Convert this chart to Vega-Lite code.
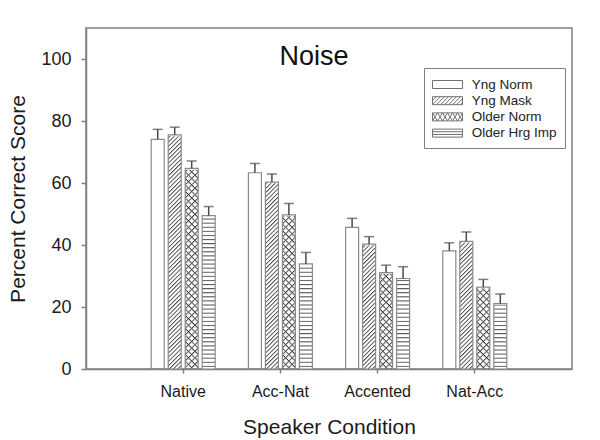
{
"$schema": "https://vega.github.io/schema/vega-lite/v6.json",
"width": 486, "height": 341,
"autosize": {"type": "none"},
"padding": {"left": 86, "top": 28, "right": 28, "bottom": 71},
"background": "white",
"title": {"text": "Noise", "fontSize": 27, "font": "Liberation Sans", "fontWeight": "normal", "color": "#111", "anchor": "middle", "frame": "group", "offset": 0, "baseline": "alphabetic", "dy": 64, "dx": -15},
"config": {
  "font": "Liberation Sans",
  "view": {"stroke": "#808080", "strokeWidth": 1.5},
  "axis": {"grid": false, "domainColor": "#808080", "domainWidth": 1.5, "tickColor": "#808080", "tickWidth": 1.5, "labelColor": "#1a1a1a", "titleColor": "#1a1a1a", "labelFont": "Liberation Sans", "titleFont": "Liberation Sans", "titleFontWeight": "normal"}
},
"data": {"values": [
{"cond":"Native","group":"Yng Norm","mean":74.1,"hi":77.3},
{"cond":"Native","group":"Yng Mask","mean":75.5,"hi":78.0},
{"cond":"Native","group":"Older Norm","mean":64.7,"hi":67.1},
{"cond":"Native","group":"Older Hrg Imp","mean":49.5,"hi":52.4},
{"cond":"Acc-Nat","group":"Yng Norm","mean":63.3,"hi":66.3},
{"cond":"Acc-Nat","group":"Yng Mask","mean":60.3,"hi":62.9},
{"cond":"Acc-Nat","group":"Older Norm","mean":49.7,"hi":53.4},
{"cond":"Acc-Nat","group":"Older Hrg Imp","mean":33.9,"hi":37.6},
{"cond":"Accented","group":"Yng Norm","mean":45.7,"hi":48.6},
{"cond":"Accented","group":"Yng Mask","mean":40.3,"hi":42.7},
{"cond":"Accented","group":"Older Norm","mean":31.1,"hi":33.5},
{"cond":"Accented","group":"Older Hrg Imp","mean":29.2,"hi":33.0},
{"cond":"Nat-Acc","group":"Yng Norm","mean":38.1,"hi":40.7},
{"cond":"Nat-Acc","group":"Yng Mask","mean":41.2,"hi":44.2},
{"cond":"Nat-Acc","group":"Older Norm","mean":26.4,"hi":28.9},
{"cond":"Nat-Acc","group":"Older Hrg Imp","mean":21.1,"hi":24.2}
]},
"encoding": {
  "x": {"field": "cond", "type": "nominal", "sort": ["Native","Acc-Nat","Accented","Nat-Acc"],
        "scale": {"domain": ["Native","Acc-Nat","Accented","Nat-Acc"], "paddingInner": 0.3, "paddingOuter": 0.65},
        "title": "Speaker Condition",
        "axis": {"labelAngle": 0, "tickSize": 4, "labelFontSize": 16, "labelBaseline": "alphabetic", "labelPadding": 23.5, "titleFontSize": 21, "titleBaseline": "alphabetic", "titleY": 64}},
  "xOffset": {"field": "group", "type": "nominal", "sort": ["Yng Norm","Yng Mask","Older Norm","Older Hrg Imp"],
        "scale": {"domain": ["Yng Norm","Yng Mask","Older Norm","Older Hrg Imp"], "paddingInner": 0.235, "paddingOuter": 0.12}}
},
"layer": [
{
  "transform": [{"filter": "datum.group === 'Yng Mask'"}],
  "mark": {"type": "bar", "fill": {"gradient": "linear", "x1": 0, "y1": 0, "x2": 0.0556, "y2": 1.06, "stops": [
{"offset":0,"color":"#444"},{"offset":0.0064,"color":"#fff"},{"offset":0.0128,"color":"#fff"},
{"offset":0.016,"color":"#444"},{"offset":0.0224,"color":"#fff"},{"offset":0.0288,"color":"#fff"},
{"offset":0.032,"color":"#444"},{"offset":0.0384,"color":"#fff"},{"offset":0.0448,"color":"#fff"},
{"offset":0.048,"color":"#444"},{"offset":0.0544,"color":"#fff"},{"offset":0.0608,"color":"#fff"},
{"offset":0.064,"color":"#444"},{"offset":0.0704,"color":"#fff"},{"offset":0.0768,"color":"#fff"},
{"offset":0.08,"color":"#444"},{"offset":0.0864,"color":"#fff"},{"offset":0.0928,"color":"#fff"},
{"offset":0.096,"color":"#444"},{"offset":0.1024,"color":"#fff"},{"offset":0.1088,"color":"#fff"},
{"offset":0.112,"color":"#444"},{"offset":0.1184,"color":"#fff"},{"offset":0.1248,"color":"#fff"},
{"offset":0.128,"color":"#444"},{"offset":0.1344,"color":"#fff"},{"offset":0.1408,"color":"#fff"},
{"offset":0.144,"color":"#444"},{"offset":0.1504,"color":"#fff"},{"offset":0.1568,"color":"#fff"},
{"offset":0.16,"color":"#444"},{"offset":0.1664,"color":"#fff"},{"offset":0.1728,"color":"#fff"},
{"offset":0.176,"color":"#444"},{"offset":0.1824,"color":"#fff"},{"offset":0.1888,"color":"#fff"},
{"offset":0.192,"color":"#444"},{"offset":0.1984,"color":"#fff"},{"offset":0.2048,"color":"#fff"},
{"offset":0.208,"color":"#444"},{"offset":0.2144,"color":"#fff"},{"offset":0.2208,"color":"#fff"},
{"offset":0.224,"color":"#444"},{"offset":0.2304,"color":"#fff"},{"offset":0.2368,"color":"#fff"},
{"offset":0.24,"color":"#444"},{"offset":0.2464,"color":"#fff"},{"offset":0.2528,"color":"#fff"},
{"offset":0.256,"color":"#444"},{"offset":0.2624,"color":"#fff"},{"offset":0.2688,"color":"#fff"},
{"offset":0.272,"color":"#444"},{"offset":0.2784,"color":"#fff"},{"offset":0.2848,"color":"#fff"},
{"offset":0.288,"color":"#444"},{"offset":0.2944,"color":"#fff"},{"offset":0.3008,"color":"#fff"},
{"offset":0.304,"color":"#444"},{"offset":0.3104,"color":"#fff"},{"offset":0.3168,"color":"#fff"},
{"offset":0.32,"color":"#444"},{"offset":0.3264,"color":"#fff"},{"offset":0.3328,"color":"#fff"},
{"offset":0.336,"color":"#444"},{"offset":0.3424,"color":"#fff"},{"offset":0.3488,"color":"#fff"},
{"offset":0.352,"color":"#444"},{"offset":0.3584,"color":"#fff"},{"offset":0.3648,"color":"#fff"},
{"offset":0.368,"color":"#444"},{"offset":0.3744,"color":"#fff"},{"offset":0.3808,"color":"#fff"},
{"offset":0.384,"color":"#444"},{"offset":0.3904,"color":"#fff"},{"offset":0.3968,"color":"#fff"},
{"offset":0.4,"color":"#444"},{"offset":0.4064,"color":"#fff"},{"offset":0.4128,"color":"#fff"},
{"offset":0.416,"color":"#444"},{"offset":0.4224,"color":"#fff"},{"offset":0.4288,"color":"#fff"},
{"offset":0.432,"color":"#444"},{"offset":0.4384,"color":"#fff"},{"offset":0.4448,"color":"#fff"},
{"offset":0.448,"color":"#444"},{"offset":0.4544,"color":"#fff"},{"offset":0.4608,"color":"#fff"},
{"offset":0.464,"color":"#444"},{"offset":0.4704,"color":"#fff"},{"offset":0.4768,"color":"#fff"},
{"offset":0.48,"color":"#444"},{"offset":0.4864,"color":"#fff"},{"offset":0.4928,"color":"#fff"},
{"offset":0.496,"color":"#444"},{"offset":0.5024,"color":"#fff"},{"offset":0.5088,"color":"#fff"},
{"offset":0.512,"color":"#444"},{"offset":0.5184,"color":"#fff"},{"offset":0.5248,"color":"#fff"},
{"offset":0.528,"color":"#444"},{"offset":0.5344,"color":"#fff"},{"offset":0.5408,"color":"#fff"},
{"offset":0.544,"color":"#444"},{"offset":0.5504,"color":"#fff"},{"offset":0.5568,"color":"#fff"},
{"offset":0.56,"color":"#444"},{"offset":0.5664,"color":"#fff"},{"offset":0.5728,"color":"#fff"},
{"offset":0.576,"color":"#444"},{"offset":0.5824,"color":"#fff"},{"offset":0.5888,"color":"#fff"},
{"offset":0.592,"color":"#444"},{"offset":0.5984,"color":"#fff"},{"offset":0.6048,"color":"#fff"},
{"offset":0.608,"color":"#444"},{"offset":0.6144,"color":"#fff"},{"offset":0.6208,"color":"#fff"},
{"offset":0.624,"color":"#444"},{"offset":0.6304,"color":"#fff"},{"offset":0.6368,"color":"#fff"},
{"offset":0.64,"color":"#444"},{"offset":0.6464,"color":"#fff"},{"offset":0.6528,"color":"#fff"},
{"offset":0.656,"color":"#444"},{"offset":0.6624,"color":"#fff"},{"offset":0.6688,"color":"#fff"},
{"offset":0.672,"color":"#444"},{"offset":0.6784,"color":"#fff"},{"offset":0.6848,"color":"#fff"},
{"offset":0.688,"color":"#444"},{"offset":0.6944,"color":"#fff"},{"offset":0.7008,"color":"#fff"},
{"offset":0.704,"color":"#444"},{"offset":0.7104,"color":"#fff"},{"offset":0.7168,"color":"#fff"},
{"offset":0.72,"color":"#444"},{"offset":0.7264,"color":"#fff"},{"offset":0.7328,"color":"#fff"},
{"offset":0.736,"color":"#444"},{"offset":0.7424,"color":"#fff"},{"offset":0.7488,"color":"#fff"},
{"offset":0.752,"color":"#444"},{"offset":0.7584,"color":"#fff"},{"offset":0.7648,"color":"#fff"},
{"offset":0.768,"color":"#444"},{"offset":0.7744,"color":"#fff"},{"offset":0.7808,"color":"#fff"},
{"offset":0.784,"color":"#444"},{"offset":0.7904,"color":"#fff"},{"offset":0.7968,"color":"#fff"},
{"offset":0.8,"color":"#444"},{"offset":0.8064,"color":"#fff"},{"offset":0.8128,"color":"#fff"},
{"offset":0.816,"color":"#444"},{"offset":0.8224,"color":"#fff"},{"offset":0.8288,"color":"#fff"},
{"offset":0.832,"color":"#444"},{"offset":0.8384,"color":"#fff"},{"offset":0.8448,"color":"#fff"},
{"offset":0.848,"color":"#444"},{"offset":0.8544,"color":"#fff"},{"offset":0.8608,"color":"#fff"},
{"offset":0.864,"color":"#444"},{"offset":0.8704,"color":"#fff"},{"offset":0.8768,"color":"#fff"},
{"offset":0.88,"color":"#444"},{"offset":0.8864,"color":"#fff"},{"offset":0.8928,"color":"#fff"},
{"offset":0.896,"color":"#444"},{"offset":0.9024,"color":"#fff"},{"offset":0.9088,"color":"#fff"},
{"offset":0.912,"color":"#444"},{"offset":0.9184,"color":"#fff"},{"offset":0.9248,"color":"#fff"},
{"offset":0.928,"color":"#444"},{"offset":0.9344,"color":"#fff"},{"offset":0.9408,"color":"#fff"},
{"offset":0.944,"color":"#444"},{"offset":0.9504,"color":"#fff"},{"offset":0.9568,"color":"#fff"},
{"offset":0.96,"color":"#444"},{"offset":0.9664,"color":"#fff"},{"offset":0.9728,"color":"#fff"},
{"offset":0.976,"color":"#444"},{"offset":0.9824,"color":"#fff"},{"offset":0.9888,"color":"#fff"}
]}},
  "encoding": {"y": {"datum": 80, "type": "quantitative", "title": "Percent Correct Score"}, "y2": {"datum": 0}}
},
{
  "transform": [{"filter": "datum.group === 'Older Norm'"}],
  "mark": {"type": "bar", "fill": {"gradient": "linear", "x1": 0, "y1": 0, "x2": 0.0641, "y2": 1.07, "stops": [
{"offset":0,"color":"#333"},{"offset":0.0112,"color":"rgba(255,255,255,0)"},{"offset":0.0224,"color":"rgba(255,255,255,0)"},
{"offset":0.028,"color":"#333"},{"offset":0.0392,"color":"rgba(255,255,255,0)"},{"offset":0.0504,"color":"rgba(255,255,255,0)"},
{"offset":0.056,"color":"#333"},{"offset":0.0672,"color":"rgba(255,255,255,0)"},{"offset":0.0784,"color":"rgba(255,255,255,0)"},
{"offset":0.084,"color":"#333"},{"offset":0.0952,"color":"rgba(255,255,255,0)"},{"offset":0.1064,"color":"rgba(255,255,255,0)"},
{"offset":0.112,"color":"#333"},{"offset":0.1232,"color":"rgba(255,255,255,0)"},{"offset":0.1344,"color":"rgba(255,255,255,0)"},
{"offset":0.14,"color":"#333"},{"offset":0.1512,"color":"rgba(255,255,255,0)"},{"offset":0.1624,"color":"rgba(255,255,255,0)"},
{"offset":0.168,"color":"#333"},{"offset":0.1792,"color":"rgba(255,255,255,0)"},{"offset":0.1904,"color":"rgba(255,255,255,0)"},
{"offset":0.196,"color":"#333"},{"offset":0.2072,"color":"rgba(255,255,255,0)"},{"offset":0.2184,"color":"rgba(255,255,255,0)"},
{"offset":0.224,"color":"#333"},{"offset":0.2352,"color":"rgba(255,255,255,0)"},{"offset":0.2464,"color":"rgba(255,255,255,0)"},
{"offset":0.252,"color":"#333"},{"offset":0.2632,"color":"rgba(255,255,255,0)"},{"offset":0.2744,"color":"rgba(255,255,255,0)"},
{"offset":0.28,"color":"#333"},{"offset":0.2912,"color":"rgba(255,255,255,0)"},{"offset":0.3024,"color":"rgba(255,255,255,0)"},
{"offset":0.308,"color":"#333"},{"offset":0.3192,"color":"rgba(255,255,255,0)"},{"offset":0.3304,"color":"rgba(255,255,255,0)"},
{"offset":0.336,"color":"#333"},{"offset":0.3472,"color":"rgba(255,255,255,0)"},{"offset":0.3584,"color":"rgba(255,255,255,0)"},
{"offset":0.364,"color":"#333"},{"offset":0.3752,"color":"rgba(255,255,255,0)"},{"offset":0.3864,"color":"rgba(255,255,255,0)"},
{"offset":0.392,"color":"#333"},{"offset":0.4032,"color":"rgba(255,255,255,0)"},{"offset":0.4144,"color":"rgba(255,255,255,0)"},
{"offset":0.42,"color":"#333"},{"offset":0.4312,"color":"rgba(255,255,255,0)"},{"offset":0.4424,"color":"rgba(255,255,255,0)"},
{"offset":0.448,"color":"#333"},{"offset":0.4592,"color":"rgba(255,255,255,0)"},{"offset":0.4704,"color":"rgba(255,255,255,0)"},
{"offset":0.476,"color":"#333"},{"offset":0.4872,"color":"rgba(255,255,255,0)"},{"offset":0.4984,"color":"rgba(255,255,255,0)"},
{"offset":0.504,"color":"#333"},{"offset":0.5152,"color":"rgba(255,255,255,0)"},{"offset":0.5264,"color":"rgba(255,255,255,0)"},
{"offset":0.532,"color":"#333"},{"offset":0.5432,"color":"rgba(255,255,255,0)"},{"offset":0.5544,"color":"rgba(255,255,255,0)"},
{"offset":0.56,"color":"#333"},{"offset":0.5712,"color":"rgba(255,255,255,0)"},{"offset":0.5824,"color":"rgba(255,255,255,0)"},
{"offset":0.588,"color":"#333"},{"offset":0.5992,"color":"rgba(255,255,255,0)"},{"offset":0.6104,"color":"rgba(255,255,255,0)"},
{"offset":0.616,"color":"#333"},{"offset":0.6272,"color":"rgba(255,255,255,0)"},{"offset":0.6384,"color":"rgba(255,255,255,0)"},
{"offset":0.644,"color":"#333"},{"offset":0.6552,"color":"rgba(255,255,255,0)"},{"offset":0.6664,"color":"rgba(255,255,255,0)"},
{"offset":0.672,"color":"#333"},{"offset":0.6832,"color":"rgba(255,255,255,0)"},{"offset":0.6944,"color":"rgba(255,255,255,0)"},
{"offset":0.7,"color":"#333"},{"offset":0.7112,"color":"rgba(255,255,255,0)"},{"offset":0.7224,"color":"rgba(255,255,255,0)"},
{"offset":0.728,"color":"#333"},{"offset":0.7392,"color":"rgba(255,255,255,0)"},{"offset":0.7504,"color":"rgba(255,255,255,0)"},
{"offset":0.756,"color":"#333"},{"offset":0.7672,"color":"rgba(255,255,255,0)"},{"offset":0.7784,"color":"rgba(255,255,255,0)"},
{"offset":0.784,"color":"#333"},{"offset":0.7952,"color":"rgba(255,255,255,0)"},{"offset":0.8064,"color":"rgba(255,255,255,0)"},
{"offset":0.812,"color":"#333"},{"offset":0.8232,"color":"rgba(255,255,255,0)"},{"offset":0.8344,"color":"rgba(255,255,255,0)"},
{"offset":0.84,"color":"#333"},{"offset":0.8512,"color":"rgba(255,255,255,0)"},{"offset":0.8624,"color":"rgba(255,255,255,0)"},
{"offset":0.868,"color":"#333"},{"offset":0.8792,"color":"rgba(255,255,255,0)"},{"offset":0.8904,"color":"rgba(255,255,255,0)"},
{"offset":0.896,"color":"#333"},{"offset":0.9072,"color":"rgba(255,255,255,0)"},{"offset":0.9184,"color":"rgba(255,255,255,0)"},
{"offset":0.924,"color":"#333"},{"offset":0.9352,"color":"rgba(255,255,255,0)"},{"offset":0.9464,"color":"rgba(255,255,255,0)"},
{"offset":0.952,"color":"#333"},{"offset":0.9632,"color":"rgba(255,255,255,0)"},{"offset":0.9744,"color":"rgba(255,255,255,0)"},
{"offset":0.98,"color":"#333"},{"offset":0.9912,"color":"rgba(255,255,255,0)"},{"offset":1,"color":"rgba(255,255,255,0)"}
]}},
  "encoding": {"y": {"datum": 70, "type": "quantitative", "title": "Percent Correct Score"}, "y2": {"datum": 0}}
},
{
  "transform": [{"filter": "datum.group === 'Older Norm'"}],
  "mark": {"type": "bar", "fill": {"gradient": "linear", "x1": 1, "y1": 0, "x2": 0.9359, "y2": 1.07, "stops": [
{"offset":0,"color":"#333"},{"offset":0.0112,"color":"rgba(255,255,255,0)"},{"offset":0.0224,"color":"rgba(255,255,255,0)"},
{"offset":0.028,"color":"#333"},{"offset":0.0392,"color":"rgba(255,255,255,0)"},{"offset":0.0504,"color":"rgba(255,255,255,0)"},
{"offset":0.056,"color":"#333"},{"offset":0.0672,"color":"rgba(255,255,255,0)"},{"offset":0.0784,"color":"rgba(255,255,255,0)"},
{"offset":0.084,"color":"#333"},{"offset":0.0952,"color":"rgba(255,255,255,0)"},{"offset":0.1064,"color":"rgba(255,255,255,0)"},
{"offset":0.112,"color":"#333"},{"offset":0.1232,"color":"rgba(255,255,255,0)"},{"offset":0.1344,"color":"rgba(255,255,255,0)"},
{"offset":0.14,"color":"#333"},{"offset":0.1512,"color":"rgba(255,255,255,0)"},{"offset":0.1624,"color":"rgba(255,255,255,0)"},
{"offset":0.168,"color":"#333"},{"offset":0.1792,"color":"rgba(255,255,255,0)"},{"offset":0.1904,"color":"rgba(255,255,255,0)"},
{"offset":0.196,"color":"#333"},{"offset":0.2072,"color":"rgba(255,255,255,0)"},{"offset":0.2184,"color":"rgba(255,255,255,0)"},
{"offset":0.224,"color":"#333"},{"offset":0.2352,"color":"rgba(255,255,255,0)"},{"offset":0.2464,"color":"rgba(255,255,255,0)"},
{"offset":0.252,"color":"#333"},{"offset":0.2632,"color":"rgba(255,255,255,0)"},{"offset":0.2744,"color":"rgba(255,255,255,0)"},
{"offset":0.28,"color":"#333"},{"offset":0.2912,"color":"rgba(255,255,255,0)"},{"offset":0.3024,"color":"rgba(255,255,255,0)"},
{"offset":0.308,"color":"#333"},{"offset":0.3192,"color":"rgba(255,255,255,0)"},{"offset":0.3304,"color":"rgba(255,255,255,0)"},
{"offset":0.336,"color":"#333"},{"offset":0.3472,"color":"rgba(255,255,255,0)"},{"offset":0.3584,"color":"rgba(255,255,255,0)"},
{"offset":0.364,"color":"#333"},{"offset":0.3752,"color":"rgba(255,255,255,0)"},{"offset":0.3864,"color":"rgba(255,255,255,0)"},
{"offset":0.392,"color":"#333"},{"offset":0.4032,"color":"rgba(255,255,255,0)"},{"offset":0.4144,"color":"rgba(255,255,255,0)"},
{"offset":0.42,"color":"#333"},{"offset":0.4312,"color":"rgba(255,255,255,0)"},{"offset":0.4424,"color":"rgba(255,255,255,0)"},
{"offset":0.448,"color":"#333"},{"offset":0.4592,"color":"rgba(255,255,255,0)"},{"offset":0.4704,"color":"rgba(255,255,255,0)"},
{"offset":0.476,"color":"#333"},{"offset":0.4872,"color":"rgba(255,255,255,0)"},{"offset":0.4984,"color":"rgba(255,255,255,0)"},
{"offset":0.504,"color":"#333"},{"offset":0.5152,"color":"rgba(255,255,255,0)"},{"offset":0.5264,"color":"rgba(255,255,255,0)"},
{"offset":0.532,"color":"#333"},{"offset":0.5432,"color":"rgba(255,255,255,0)"},{"offset":0.5544,"color":"rgba(255,255,255,0)"},
{"offset":0.56,"color":"#333"},{"offset":0.5712,"color":"rgba(255,255,255,0)"},{"offset":0.5824,"color":"rgba(255,255,255,0)"},
{"offset":0.588,"color":"#333"},{"offset":0.5992,"color":"rgba(255,255,255,0)"},{"offset":0.6104,"color":"rgba(255,255,255,0)"},
{"offset":0.616,"color":"#333"},{"offset":0.6272,"color":"rgba(255,255,255,0)"},{"offset":0.6384,"color":"rgba(255,255,255,0)"},
{"offset":0.644,"color":"#333"},{"offset":0.6552,"color":"rgba(255,255,255,0)"},{"offset":0.6664,"color":"rgba(255,255,255,0)"},
{"offset":0.672,"color":"#333"},{"offset":0.6832,"color":"rgba(255,255,255,0)"},{"offset":0.6944,"color":"rgba(255,255,255,0)"},
{"offset":0.7,"color":"#333"},{"offset":0.7112,"color":"rgba(255,255,255,0)"},{"offset":0.7224,"color":"rgba(255,255,255,0)"},
{"offset":0.728,"color":"#333"},{"offset":0.7392,"color":"rgba(255,255,255,0)"},{"offset":0.7504,"color":"rgba(255,255,255,0)"},
{"offset":0.756,"color":"#333"},{"offset":0.7672,"color":"rgba(255,255,255,0)"},{"offset":0.7784,"color":"rgba(255,255,255,0)"},
{"offset":0.784,"color":"#333"},{"offset":0.7952,"color":"rgba(255,255,255,0)"},{"offset":0.8064,"color":"rgba(255,255,255,0)"},
{"offset":0.812,"color":"#333"},{"offset":0.8232,"color":"rgba(255,255,255,0)"},{"offset":0.8344,"color":"rgba(255,255,255,0)"},
{"offset":0.84,"color":"#333"},{"offset":0.8512,"color":"rgba(255,255,255,0)"},{"offset":0.8624,"color":"rgba(255,255,255,0)"},
{"offset":0.868,"color":"#333"},{"offset":0.8792,"color":"rgba(255,255,255,0)"},{"offset":0.8904,"color":"rgba(255,255,255,0)"},
{"offset":0.896,"color":"#333"},{"offset":0.9072,"color":"rgba(255,255,255,0)"},{"offset":0.9184,"color":"rgba(255,255,255,0)"},
{"offset":0.924,"color":"#333"},{"offset":0.9352,"color":"rgba(255,255,255,0)"},{"offset":0.9464,"color":"rgba(255,255,255,0)"},
{"offset":0.952,"color":"#333"},{"offset":0.9632,"color":"rgba(255,255,255,0)"},{"offset":0.9744,"color":"rgba(255,255,255,0)"},
{"offset":0.98,"color":"#333"},{"offset":0.9912,"color":"rgba(255,255,255,0)"},{"offset":1,"color":"rgba(255,255,255,0)"}
]}},
  "encoding": {"y": {"datum": 70, "type": "quantitative", "title": "Percent Correct Score"}, "y2": {"datum": 0}}
},
{
  "transform": [{"filter": "datum.group === 'Older Hrg Imp'"}],
  "mark": {"type": "bar", "fill": {"gradient": "linear", "x1": 0, "y1": 0, "x2": 0, "y2": 1, "stops": [
{"offset":0,"color":"#555"},{"offset":0.0072,"color":"#fff"},{"offset":0.0192,"color":"#fff"},
{"offset":0.024,"color":"#555"},{"offset":0.0312,"color":"#fff"},{"offset":0.0432,"color":"#fff"},
{"offset":0.048,"color":"#555"},{"offset":0.0552,"color":"#fff"},{"offset":0.0672,"color":"#fff"},
{"offset":0.072,"color":"#555"},{"offset":0.0792,"color":"#fff"},{"offset":0.0912,"color":"#fff"},
{"offset":0.096,"color":"#555"},{"offset":0.1032,"color":"#fff"},{"offset":0.1152,"color":"#fff"},
{"offset":0.12,"color":"#555"},{"offset":0.1272,"color":"#fff"},{"offset":0.1392,"color":"#fff"},
{"offset":0.144,"color":"#555"},{"offset":0.1512,"color":"#fff"},{"offset":0.1632,"color":"#fff"},
{"offset":0.168,"color":"#555"},{"offset":0.1752,"color":"#fff"},{"offset":0.1872,"color":"#fff"},
{"offset":0.192,"color":"#555"},{"offset":0.1992,"color":"#fff"},{"offset":0.2112,"color":"#fff"},
{"offset":0.216,"color":"#555"},{"offset":0.2232,"color":"#fff"},{"offset":0.2352,"color":"#fff"},
{"offset":0.24,"color":"#555"},{"offset":0.2472,"color":"#fff"},{"offset":0.2592,"color":"#fff"},
{"offset":0.264,"color":"#555"},{"offset":0.2712,"color":"#fff"},{"offset":0.2832,"color":"#fff"},
{"offset":0.288,"color":"#555"},{"offset":0.2952,"color":"#fff"},{"offset":0.3072,"color":"#fff"},
{"offset":0.312,"color":"#555"},{"offset":0.3192,"color":"#fff"},{"offset":0.3312,"color":"#fff"},
{"offset":0.336,"color":"#555"},{"offset":0.3432,"color":"#fff"},{"offset":0.3552,"color":"#fff"},
{"offset":0.36,"color":"#555"},{"offset":0.3672,"color":"#fff"},{"offset":0.3792,"color":"#fff"},
{"offset":0.384,"color":"#555"},{"offset":0.3912,"color":"#fff"},{"offset":0.4032,"color":"#fff"},
{"offset":0.408,"color":"#555"},{"offset":0.4152,"color":"#fff"},{"offset":0.4272,"color":"#fff"},
{"offset":0.432,"color":"#555"},{"offset":0.4392,"color":"#fff"},{"offset":0.4512,"color":"#fff"},
{"offset":0.456,"color":"#555"},{"offset":0.4632,"color":"#fff"},{"offset":0.4752,"color":"#fff"},
{"offset":0.48,"color":"#555"},{"offset":0.4872,"color":"#fff"},{"offset":0.4992,"color":"#fff"},
{"offset":0.504,"color":"#555"},{"offset":0.5112,"color":"#fff"},{"offset":0.5232,"color":"#fff"},
{"offset":0.528,"color":"#555"},{"offset":0.5352,"color":"#fff"},{"offset":0.5472,"color":"#fff"},
{"offset":0.552,"color":"#555"},{"offset":0.5592,"color":"#fff"},{"offset":0.5712,"color":"#fff"},
{"offset":0.576,"color":"#555"},{"offset":0.5832,"color":"#fff"},{"offset":0.5952,"color":"#fff"},
{"offset":0.6,"color":"#555"},{"offset":0.6072,"color":"#fff"},{"offset":0.6192,"color":"#fff"},
{"offset":0.624,"color":"#555"},{"offset":0.6312,"color":"#fff"},{"offset":0.6432,"color":"#fff"},
{"offset":0.648,"color":"#555"},{"offset":0.6552,"color":"#fff"},{"offset":0.6672,"color":"#fff"},
{"offset":0.672,"color":"#555"},{"offset":0.6792,"color":"#fff"},{"offset":0.6912,"color":"#fff"},
{"offset":0.696,"color":"#555"},{"offset":0.7032,"color":"#fff"},{"offset":0.7152,"color":"#fff"},
{"offset":0.72,"color":"#555"},{"offset":0.7272,"color":"#fff"},{"offset":0.7392,"color":"#fff"},
{"offset":0.744,"color":"#555"},{"offset":0.7512,"color":"#fff"},{"offset":0.7632,"color":"#fff"},
{"offset":0.768,"color":"#555"},{"offset":0.7752,"color":"#fff"},{"offset":0.7872,"color":"#fff"},
{"offset":0.792,"color":"#555"},{"offset":0.7992,"color":"#fff"},{"offset":0.8112,"color":"#fff"},
{"offset":0.816,"color":"#555"},{"offset":0.8232,"color":"#fff"},{"offset":0.8352,"color":"#fff"},
{"offset":0.84,"color":"#555"},{"offset":0.8472,"color":"#fff"},{"offset":0.8592,"color":"#fff"},
{"offset":0.864,"color":"#555"},{"offset":0.8712,"color":"#fff"},{"offset":0.8832,"color":"#fff"},
{"offset":0.888,"color":"#555"},{"offset":0.8952,"color":"#fff"},{"offset":0.9072,"color":"#fff"},
{"offset":0.912,"color":"#555"},{"offset":0.9192,"color":"#fff"},{"offset":0.9312,"color":"#fff"},
{"offset":0.936,"color":"#555"},{"offset":0.9432,"color":"#fff"},{"offset":0.9552,"color":"#fff"},
{"offset":0.96,"color":"#555"},{"offset":0.9672,"color":"#fff"},{"offset":0.9792,"color":"#fff"},
{"offset":0.984,"color":"#555"},{"offset":0.9912,"color":"#fff"},{"offset":1,"color":"#fff"}
]}},
  "encoding": {"y": {"datum": 55, "type": "quantitative", "title": "Percent Correct Score"}, "y2": {"datum": 0}}
},
{
  "transform": [{"filter": "datum.group !== 'Yng Norm'"}],
  "mark": {"type": "bar", "fill": "#ffffff", "stroke": "#ffffff", "strokeWidth": 2.5},
  "encoding": {"y": {"field": "mean", "type": "quantitative", "title": "Percent Correct Score"}, "y2": {"datum": 81}}
},
{
  "mark": {"type": "bar", "fill": "transparent", "stroke": "#8a8a8a", "strokeWidth": 1.2},
  "encoding": {
    "y": {"field": "mean", "type": "quantitative", "title": "Percent Correct Score",
          "scale": {"domain": [0, 110], "nice": false},
          "axis": {"values": [0, 20, 40, 60, 80, 100], "tickSize": 5, "labelPadding": 10, "labelFontSize": 18, "titleFontSize": 21, "titleBaseline": "alphabetic", "titleX": -62, "titleY": 170.5}},
    "y2": {"datum": 0}
  }
},
{
  "mark": {"type": "rule", "color": "#4a4a4a", "strokeWidth": 1.5},
  "encoding": {"y": {"field": "mean", "type": "quantitative", "title": "Percent Correct Score"}, "y2": {"field": "hi"}}
},
{
  "mark": {"type": "tick", "color": "#4a4a4a", "thickness": 1.5, "size": 10},
  "encoding": {"y": {"field": "hi", "type": "quantitative", "title": "Percent Correct Score"}}
},
{
  "mark": {"type": "point", "opacity": 0, "filled": false, "color": "#707070", "size": 256},
  "encoding": {
    "y": {"field": "mean", "type": "quantitative", "title": "Percent Correct Score"},
    "shape": {"field": "group", "type": "nominal",
      "scale": {"domain": ["Yng Norm","Yng Mask","Older Norm","Older Hrg Imp"],
                "range": [
                  "M-1,-0.5H2.75V0.5H-1Z",
                  "M-1,-0.5H2.75V0.5H-1ZM-1,0L-0.5,-0.5M-1,0.5L0,-0.5M-0.5,0.5L0.5,-0.5M0,0.5L1,-0.5M0.5,0.5L1.5,-0.5M1,0.5L2,-0.5M1.5,0.5L2.5,-0.5M2,0.5L2.75,-0.25M2.5,0.5L2.75,0.25",
                  "M-1,-0.5H2.75V0.5H-1ZM-1,-0.5L-0.375,0.5L0.25,-0.5L0.875,0.5L1.5,-0.5L2.125,0.5L2.75,-0.5M-1,0.5L-0.375,-0.5L0.25,0.5L0.875,-0.5L1.5,0.5L2.125,-0.5L2.75,0.5",
                  "M-1,-0.5H2.75V0.5H-1ZM-1,-0.17H2.75M-1,0.17H2.75"
                ]},
      "legend": {"title": null, "orient": "none", "legendX": 338, "legendY": 40, "padding": 8,
                 "strokeColor": "#808080", "fillColor": "#ffffff", "symbolSize": 256, "symbolStrokeWidth": 1,
                 "symbolStrokeColor": "#707070", "symbolFillColor": "#ffffff", "labelFont": "Liberation Sans",
                 "labelFontSize": 13.5, "labelColor": "#222222", "labelOffset": 22.7, "rowPadding": 1.2}}
  }
}
]
}
